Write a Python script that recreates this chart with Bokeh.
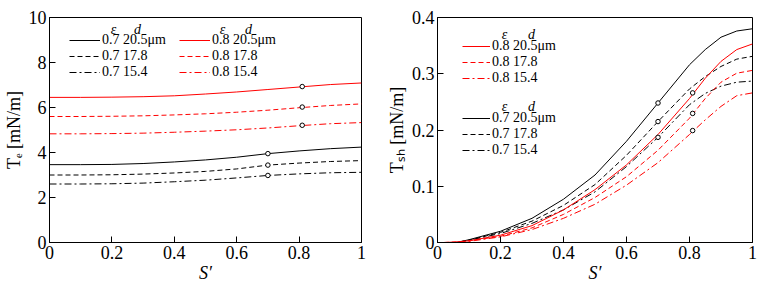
from bokeh.embed import file_html
from bokeh.layouts import row
from bokeh.models import FixedTicker, Label, Legend, LegendItem, Range1d
from bokeh.plotting import figure
from bokeh.resources import INLINE

# ---- data -------------------------------------------------------------
# Elastic tension T_e [mN/m] versus S'
s_te = [0.0, 0.1, 0.2, 0.3, 0.4, 0.5, 0.6, 0.7, 0.8, 0.9, 1.0]
te_07_205 = [3.46, 3.46, 3.47, 3.51, 3.58, 3.67, 3.79, 3.95, 4.07, 4.17, 4.24]
te_07_178 = [3.00, 3.00, 3.01, 3.04, 3.09, 3.16, 3.27, 3.44, 3.53, 3.60, 3.64]
te_07_154 = [2.60, 2.60, 2.61, 2.64, 2.70, 2.77, 2.87, 2.98, 3.05, 3.10, 3.12]
te_08_205 = [6.45, 6.45, 6.46, 6.48, 6.52, 6.60, 6.69, 6.80, 6.91, 7.02, 7.09]
te_08_178 = [5.60, 5.60, 5.61, 5.63, 5.67, 5.72, 5.79, 5.88, 5.99, 6.09, 6.16]
te_08_154 = [4.83, 4.83, 4.84, 4.86, 4.90, 4.95, 5.01, 5.09, 5.19, 5.28, 5.33]

# marked points (open circles)
mark_s_07 = [0.70, 0.70, 0.70]
mark_s_08 = [0.81, 0.81, 0.81]
mark_te_07 = [3.95, 3.44, 2.98]
mark_te_08 = [6.93, 6.02, 5.21]

# Shear tension T_sh [mN/m] versus S'
s_tsh = [0.02, 0.06, 0.1, 0.2, 0.3, 0.4, 0.5, 0.6, 0.7, 0.8, 0.85, 0.9, 0.95, 1.0]
tsh_07_205 = [0.0, 0.0, 0.005, 0.020, 0.043, 0.077, 0.120, 0.180, 0.248, 0.316, 0.343, 0.365, 0.376, 0.380]
tsh_07_178 = [0.0, 0.0, 0.004, 0.018, 0.038, 0.066, 0.103, 0.155, 0.215, 0.273, 0.295, 0.313, 0.326, 0.331]
tsh_07_154 = [0.0, 0.0, 0.004, 0.016, 0.034, 0.058, 0.090, 0.135, 0.187, 0.245, 0.265, 0.278, 0.285, 0.287]
tsh_08_205 = [0.0, 0.001, 0.003, 0.013, 0.030, 0.058, 0.094, 0.138, 0.192, 0.256, 0.292, 0.322, 0.343, 0.353]
tsh_08_178 = [0.0, 0.001, 0.003, 0.011, 0.026, 0.050, 0.080, 0.117, 0.164, 0.221, 0.256, 0.285, 0.301, 0.306]
tsh_08_154 = [0.0, 0.0, 0.002, 0.010, 0.023, 0.043, 0.068, 0.102, 0.142, 0.192, 0.218, 0.242, 0.261, 0.266]

mark_tsh_07 = [0.248, 0.215, 0.187]
mark_tsh_08 = [0.266, 0.2295, 0.199]

# axes
x_ticks = [0, 0.2, 0.4, 0.6, 0.8, 1]
x_tick_labels = ["0", "0.2", "0.4", "0.6", "0.8", "1"]
te_ticks = [0, 2, 4, 6, 8, 10]
te_tick_labels = ["0", "2", "4", "6", "8", "10"]
tsh_ticks = [0, 0.1, 0.2, 0.3, 0.4]
tsh_tick_labels = ["0", "0.1", "0.2", "0.3", "0.4"]
x_title = "S′"
te_title = "Tₑ [mN/m]"
tsh_title = "Tₛₕ [mN/m]"

# legend texts
labels_07 = ["0.7 20.5μm", "0.7 17.8", "0.7 15.4"]
labels_08 = ["0.8 20.5μm", "0.8 17.8", "0.8 15.4"]

# ---- styling ----------------------------------------------------------
SERIF = "Liberation Serif"
RED = "#ff0000"
DASHES = ["solid", "5 3", "7 3 2 3"]
H = 291


def make_fig(width, border_left, border_right, y_max, y_ticks, y_labels, y_title):
    p = figure(width=width, height=H, output_backend="svg", toolbar_location=None,
               x_range=Range1d(0, 1), y_range=Range1d(0, y_max),
               min_border_left=border_left, min_border_right=border_right,
               min_border_top=17, min_border_bottom=49)
    p.xgrid.visible = False
    p.ygrid.visible = False
    p.outline_line_color = "black"
    p.outline_line_alpha = 1
    p.outline_line_width = 1
    p.background_fill_color = "white"
    p.border_fill_color = "white"
    for ax in (p.xaxis[0], p.yaxis[0]):
        ax.axis_line_color = "black"
        ax.major_tick_line_color = "black"
        ax.major_tick_in = 6
        ax.major_tick_out = 0
        ax.minor_tick_line_color = None
        ax.major_label_text_font = SERIF
        ax.major_label_text_font_size = "18px"
        ax.major_label_text_color = "black"
        ax.axis_label_text_font = SERIF
        ax.axis_label_text_font_size = "18px"
        ax.axis_label_text_color = "black"
    p.xaxis.ticker = FixedTicker(ticks=x_ticks)
    p.xaxis.major_label_overrides = dict(zip(x_ticks, x_tick_labels))
    p.xaxis.major_label_standoff = 3
    p.xaxis.axis_label = x_title
    p.xaxis.axis_label_text_font_style = "italic"
    p.xaxis.axis_label_standoff = 1
    p.yaxis.ticker = FixedTicker(ticks=y_ticks)
    p.yaxis.major_label_overrides = dict(zip(y_ticks, y_labels))
    p.yaxis.major_label_standoff = 3
    p.yaxis.axis_label = y_title
    p.yaxis.axis_label_text_font_style = "normal"
    p.yaxis.axis_label_standoff = 2
    return p


def legend(p, items, loc, glyph_w):
    leg = Legend(items=items, location=loc, orientation="vertical",
                 padding=0, margin=0, spacing=0,
                 glyph_width=glyph_w, glyph_height=14, label_height=14,
                 label_standoff=2, label_text_font=SERIF, label_text_font_size="14px",
                 label_text_color="black", border_line_color=None,
                 background_fill_alpha=0)
    p.add_layout(leg)


def head(p, x, y, s):
    p.add_layout(Label(x=x, y=y, x_units="screen", y_units="screen", text=s,
                       text_font=SERIF, text_font_size="14px", text_font_style="italic",
                       text_color="black", text_align="center", text_baseline="middle"))


def curves(p, xs, series, color):
    rs = []
    for ys, dash in zip(series, DASHES):
        rs.append(p.line(xs, ys, line_color=color, line_width=1, line_dash=dash))
    return rs


def marks(p, xs, ys):
    p.scatter(xs, ys, marker="circle", size=4.5, fill_color="white",
              line_color="black", line_width=1)


# ---- left panel: T_e ----------------------------------------------------
p1 = make_fig(383, 46, 22, 10, te_ticks, te_tick_labels, te_title)
r07 = curves(p1, s_te, [te_07_205, te_07_178, te_07_154], "black")
r08 = curves(p1, s_te, [te_08_205, te_08_178, te_08_154], RED)
marks(p1, mark_s_07, mark_te_07)
marks(p1, mark_s_08, mark_te_08)

legend(p1, [LegendItem(label=l, renderers=[r]) for l, r in zip(labels_07, r07)], (20, 162), 31)
legend(p1, [LegendItem(label=l, renderers=[r]) for l, r in zip(labels_08, r08)], (130, 162), 31)
for ex, dx in ((64, 88), (173, 199)):
    head(p1, ex, 213, "ε")
    head(p1, dx, 213, "d")

# ---- right panel: T_sh --------------------------------------------------
p2 = make_fig(382, 53, 13, 0.4, tsh_ticks, tsh_tick_labels, tsh_title)
q07 = curves(p2, s_tsh, [tsh_07_205, tsh_07_178, tsh_07_154], "black")
q08 = curves(p2, s_tsh, [tsh_08_205, tsh_08_178, tsh_08_154], RED)
marks(p2, mark_s_07, mark_tsh_07)
marks(p2, mark_s_08, mark_tsh_08)

legend(p2, [LegendItem(label=l, renderers=[r]) for l, r in zip(labels_08, q08)], (25, 156), 28)
legend(p2, [LegendItem(label=l, renderers=[r]) for l, r in zip(labels_07, q07)], (25, 84), 28)
for hy in (208, 136):
    head(p2, 67, hy, "ε")
    head(p2, 94, hy, "d")

layout = row(p1, p2)
open("out.html", "w").write(file_html(layout, INLINE))
